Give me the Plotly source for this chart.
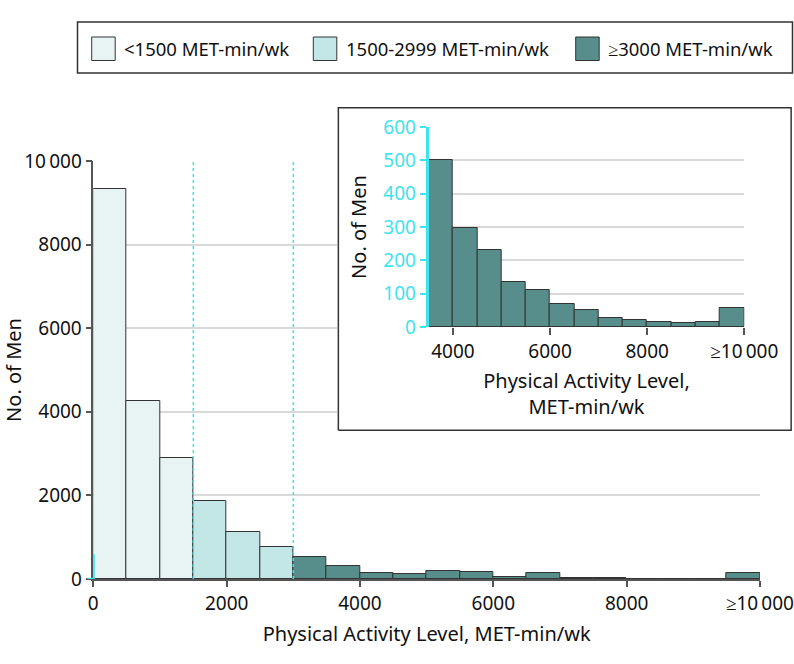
import plotly.graph_objects as go

# ---------------- data ----------------
bin_width = 500
main_bin_starts = [0, 500, 1000, 1500, 2000, 2500, 3000, 3500, 4000, 4500,
                   5000, 5500, 6000, 6500, 7000, 7500, 8000, 8500, 9000, 9500]
main_counts = [9323, 4250, 2887, 1866, 1132, 766, 534, 303, 136, 112,
               184, 160, 48, 136, 32, 16, 8, 8, 6, 152]

inset_bin_starts = [3500, 4000, 4500, 5000, 5500, 6000, 6500, 7000, 7500,
                    8000, 8500, 9000, 9500]
inset_counts = [502, 297, 231, 134, 110, 69, 51, 28, 21, 15, 13, 15, 58]

category_labels = ["<1500 MET-min/wk", "1500-2999 MET-min/wk", "≥3000 MET-min/wk"]
category_bounds = [(0, 1500), (1500, 3000), (3000, 10001)]
category_colors = ["#e8f3f4", "#c3e6e6", "#578d8b"]
cutoffs = [1500, 3000]

main_xticks = [0, 2000, 4000, 6000, 8000, 10000]
main_xticktext = ["0", "2000", "4000", "6000", "8000", "≥10\u2009000"]
main_yticks = [0, 2000, 4000, 6000, 8000, 10000]
main_yticktext = ["0", "2000", "4000", "6000", "8000", "10\u2009000"]
inset_xticks = [4000, 6000, 8000, 10000]
inset_xticktext = ["4000", "6000", "8000", "≥10\u2009000"]
inset_yticks = [0, 100, 200, 300, 400, 500, 600]

x_title = "Physical Activity Level, MET-min/wk"
x_title_inset = "Physical Activity Level,<br>MET-min/wk"
y_title = "No. of Men"

# ---------------- styling ----------------
W, H = 794, 664
FONT = "Noto Sans"
CYAN = "#3fe3ee"
GRID = "#d9d9d9"
AXIS = "#555555"
EDGE = "#333333"


def px(x):
    return x / W


def py(y):
    return 1 - y / H


fig = go.Figure()

# dotted cutoff lines (behind bars)
for c in cutoffs:
    fig.add_trace(go.Scatter(x=[c, c], y=[0, 10000], mode="lines",
                             line=dict(color=CYAN, width=1.5, dash="dot"),
                             hoverinfo="skip", showlegend=False,
                             xaxis="x", yaxis="y"))

# main histogram
for lab, (lo, hi), col in zip(category_labels, category_bounds, category_colors):
    xs = [s + bin_width / 2 for s in main_bin_starts if lo <= s < hi]
    ys = [v for s, v in zip(main_bin_starts, main_counts) if lo <= s < hi]
    fig.add_trace(go.Bar(x=xs, y=ys, width=bin_width, name=lab,
                         marker=dict(color=col, line=dict(color=EDGE, width=1)),
                         showlegend=False, xaxis="x", yaxis="y"))

# inset white box (its own subplot, drawn above the main one)
fig.add_trace(go.Scatter(x=[0, 1, 1, 0, 0], y=[0, 0, 1, 1, 0], mode="lines",
                         fill="toself", fillcolor="white",
                         line=dict(color=EDGE, width=1.5),
                         hoverinfo="skip", showlegend=False,
                         xaxis="x2", yaxis="y2"))

# inset histogram
fig.add_trace(go.Bar(x=[s + bin_width / 2 for s in inset_bin_starts], y=inset_counts,
                     width=bin_width, name=category_labels[2],
                     marker=dict(color=category_colors[2], line=dict(color=EDGE, width=1)),
                     showlegend=False, xaxis="x3", yaxis="y3"))

tickfont = dict(family=FONT, size=19, color="#111111")
titlefont = dict(family=FONT, size=20, color="#111111")

fig.update_layout(
    template="none",
    width=W, height=H, autosize=False,
    margin=dict(l=0, r=0, t=0, b=0, pad=0, autoexpand=False),
    paper_bgcolor="white", plot_bgcolor="white",
    font=dict(family=FONT, size=19, color="#111111"),
    bargap=0,
    showlegend=False,
    xaxis=dict(domain=[px(93.3), px(760)], range=[0, 10000], anchor="y",
               automargin=False,
               tickvals=main_xticks, ticktext=main_xticktext, tickfont=tickfont,
               ticks="outside", ticklen=6, tickcolor=AXIS, tickwidth=1.5,
               showline=True, linecolor=AXIS, linewidth=1.5,
               showgrid=False, zeroline=False,
               title=dict(text=x_title, font=titlefont, standoff=12)),
    yaxis=dict(domain=[py(579), py(161)], range=[0, 10000], anchor="x",
               automargin=False,
               tickvals=main_yticks, ticktext=main_yticktext, tickfont=tickfont,
               ticks="outside", ticklen=6, tickcolor=AXIS, tickwidth=1.5,
               showline=True, linecolor=AXIS, linewidth=1.5,
               showgrid=True, gridcolor=GRID, gridwidth=1.5, zeroline=False,
               title=dict(text=y_title, font=titlefont, standoff=6)),
    xaxis2=dict(domain=[px(337), px(792.5)], range=[-0.003, 1.003], anchor="y2",
                automargin=False, visible=False, fixedrange=True),
    yaxis2=dict(domain=[py(431.5), py(106.5)], range=[-0.004, 1.004], anchor="x2",
                automargin=False, visible=False, fixedrange=True),
    xaxis3=dict(domain=[px(428.7), px(744.3)], range=[3500, 10000], anchor="y3",
                automargin=False,
                tickvals=inset_xticks, ticktext=inset_xticktext, tickfont=tickfont,
                ticks="outside", ticklen=7, tickcolor=AXIS, tickwidth=1.5,
                showline=False, showgrid=False, zeroline=False,
                title=dict(text=x_title_inset, font=titlefont, standoff=11)),
    yaxis3=dict(domain=[py(327), py(127)], range=[0, 600], anchor="x3",
                automargin=False,
                tickvals=inset_yticks, tickfont=dict(family=FONT, size=19, color=CYAN),
                ticks="outside", ticklen=6, tickcolor=CYAN, tickwidth=2,
                showline=True, linecolor=CYAN, linewidth=3,
                showgrid=True, gridcolor=GRID, gridwidth=1.5, zeroline=False,
                title=dict(text=y_title, font=titlefont, standoff=12)),
)

# small cyan marker on the main y axis showing the zoomed range of the inset
fig.add_shape(type="line", xref="x", yref="y", x0=0, x1=0,
              y0=inset_yticks[0], y1=inset_yticks[-1],
              line=dict(color=CYAN, width=3), layer="above")
fig.add_shape(type="line", xref="x domain", yref="y", x0=-0.009, x1=0,
              y0=inset_yticks[0], y1=inset_yticks[0],
              line=dict(color=CYAN, width=2.5), layer="above")

# manual legend
fig.add_shape(type="rect", xref="paper", yref="paper",
              x0=px(77.5), x1=px(792.5), y0=py(73), y1=py(22),
              line=dict(color=EDGE, width=1.5), fillcolor="white", layer="above")
swatch_x = [91.7, 313.3, 575.7]
for sx, lab, col in zip(swatch_x, category_labels, category_colors):
    fig.add_shape(type="rect", xref="paper", yref="paper",
                  x0=px(sx), x1=px(sx + 23.5), y0=py(60.5), y1=py(37),
                  line=dict(color=EDGE, width=1), fillcolor=col, layer="above")
    fig.add_annotation(xref="paper", yref="paper", x=px(sx + 30.5), y=py(48.5),
                       text=lab, showarrow=False, xanchor="left", yanchor="middle",
                       font=dict(family=FONT, size=18.5, color="#111111"))

fig.write_html(
    "out.html",
    config={"displayModeBar": False},
    post_script="document.body.style.margin='0';document.body.style.padding='0';"
                "document.body.style.overflow='hidden';",
)
